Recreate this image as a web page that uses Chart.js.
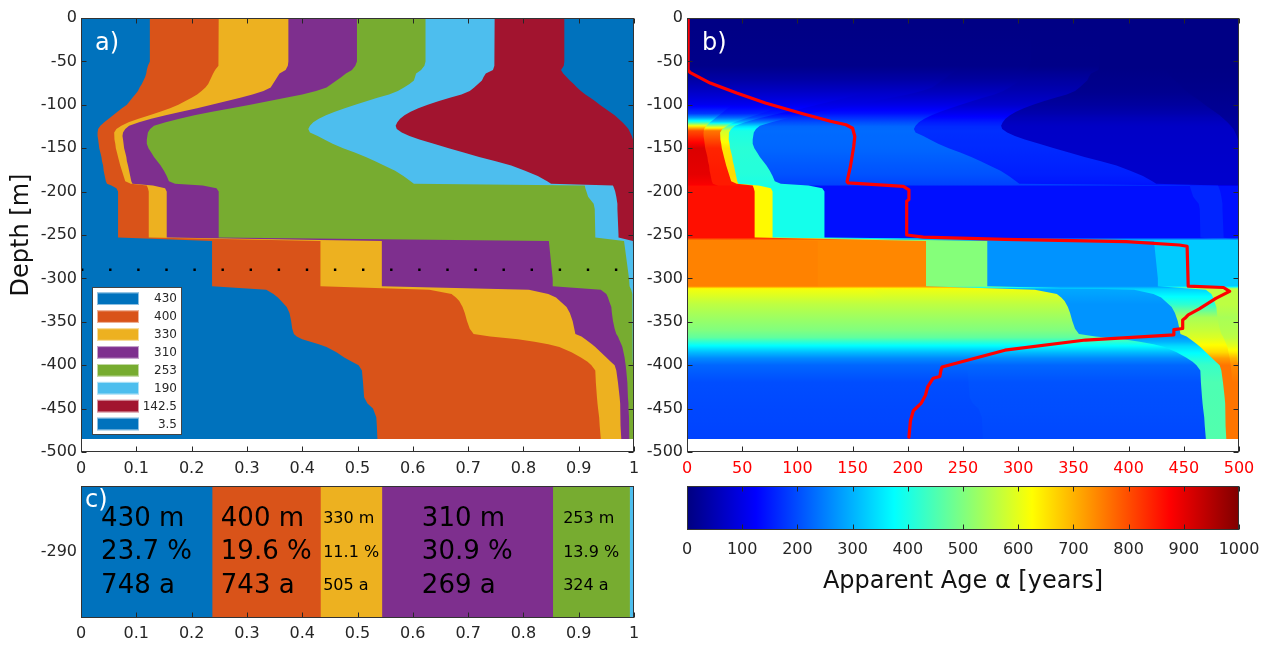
<!DOCTYPE html>
<html><head><meta charset="utf-8">
<script src="https://cdn.jsdelivr.net/npm/chart.js@4.4.0/dist/chart.umd.min.js"></script>
<style>
html,body{margin:0;padding:0;background:#fff;width:1274px;height:649px;overflow:hidden}
canvas{position:absolute;left:0;top:0}
</style></head><body>
<canvas id="ca" width="1274" height="649"></canvas>
<canvas id="cb" width="1274" height="649"></canvas>
<canvas id="cc" width="1274" height="649"></canvas>
<canvas id="cd" width="1274" height="649"></canvas>
<script>
// ---------------- DATA ----------------
const sources = ['430', '400', '330', '310', '253', '190', '142.5', '3.5'];
const sourceColors = ['#0072BD', '#D95319', '#EDB120', '#7E2F8E', '#77AC30', '#4DBEEE', '#A2142F', '#0072BD'];

// depth nodes of the mixing profile (m)
const depthA = [0,-50,-55,-60,-64,-68,-72,-76,-80,-84,-88,-92,-96,-100,-104,-108,-112,-116,-120,-124,
  -128,-132,-136,-140,-145,-150,-155,-160,-165,-170,-176,-182,-188,-191,-193,-196,-200,-206,-214,-220,
  -250,-253,-257,-300,-309,-313,-318,-322,-326,-333,-340,-349,-358,-364,-367,-370,-373,-376,-379,-385,
  -391,-396,-400,-406,-420,-437,-444,-450,-460,-470,-485];

// cumulative fraction up to (and including) each source
const edge430 = [.1245,.1245,.121,.119,.118,.116,.113,.110,.106,.103,
  .098,.093,.088,.083,.074,.066,.058,.050,.042,.035,
  .031,.030,.030,.031,.032,.033,.035,.037,.038,.040,
  .041,.043,.045,.047,.055,.064,.067,.067,.067,.067,
  .067,.067,.237,.237,.237,.335,.348,.356,.362,.372,
  .377,.380,.382,.385,.390,.400,.415,.430,.444,.462,
  .476,.490,.502,.508,.510,.512,.518,.528,.534,.535,.536];
const edge400 = [.249,.249,.248,.2425,.239,.236,.233,.230,.225,.218,
  .210,.200,.188,.176,.161,.143,.124,.104,.086,.073,
  .064,.060,.060,.061,.062,.063,.065,.067,.069,.071,
  .074,.077,.080,.090,.119,.121,.1225,.1225,.1225,.1225,
  .1225,.1225,.433,.433,.433,.630,.670,.678,.684,.690,
  .694,.698,.703,.710,.740,.790,.820,.845,.865,.887,
  .904,.916,.923,.930,.931,.933,.934,.935,.937,.938,.940];
const edge330 = [.375,.375,.374,.370,.359,.355,.351,.347,.343,.330,
  .310,.288,.262,.236,.210,.181,.153,.127,.105,.087,
  .080,.076,.075,.076,.077,.078,.080,.082,.083,.085,
  .087,.089,.091,.093,.130,.152,.155,.155,.155,.155,
  .155,.155,.544,.544,.544,.810,.845,.859,.866,.878,
  .884,.889,.892,.894,.905,.912,.918,.924,.930,.940,
  .950,.958,.965,.968,.971,.974,.975,.975,.976,.976,.977];
const edge310 = [.499,.499,.496,.490,.479,.471,.462,.453,.444,.425,
  .400,.370,.338,.306,.272,.237,.205,.178,.153,.132,
  .125,.121,.120,.119,.119,.122,.127,.132,.138,.144,
  .150,.155,.159,.170,.220,.245,.249,.249,.249,.249,
  .249,.249,.846,.853,.853,.940,.950,.953,.955,.959,
  .960,.962,.965,.968,.971,.973,.975,.977,.979,.981,
  .983,.984,.985,.986,.988,.989,.990,.990,.991,.991,.992];
const edge253 = [.623,.623,.621,.615,.606,.604,.602,.594,.584,.573,
  .557,.536,.516,.496,.477,.459,.443,.430,.420,.414,
  .411,.414,.428,.440,.455,.474,.495,.515,.532,.548,
  .568,.583,.596,.602,.911,.912,.914,.917,.927,.929,
  .930,.930,.982,.991,.992,.995,.997,.997,.997,.997,
  .997,.997,.998,.998,.998,.998,.998,.998,.998,.998,
  .998,.998,.999,.999,.999,.999,.999,.999,.999,.999,.999];
const edge190 = [.748,.748,.747,.745,.732,.728,.725,.718,.711,.703,
  .688,.667,.646,.627,.610,.596,.585,.577,.572,.569,
  .571,.580,.594,.612,.638,.665,.692,.720,.750,.778,
  .803,.826,.843,.850,.962,.964,.966,.968,.970,.970,
  .972,.972,.998,.999,.999,1,1,1,1,1,
  1,1,1,1,1,1,1,1,1,1,
  1,1,1,1,1,1,1,1,1,1,1];
const edge142 = [.874,.874,.873,.868,.872,.878,.884,.891,.897,.904,
  .912,.921,.930,.938,.947,.956,.965,.972,.979,.985,
  .990,.993,.996,.998,1,1,1,1,1,1,
  1,1,1,1,1,1,1,1,1,1,
  1,1,1,1,1,1,1,1,1,1,
  1,1,1,1,1,1,1,1,1,1,
  1,1,1,1,1,1,1,1,1,1,1];
const edge3_5 = depthA.map(() => 1); // total fraction = 1
const edges = [edge430, edge400, edge330, edge310, edge253, edge190, edge142, edge3_5];

// apparent age of each source component vs depth (years)
const ageDepth = [0,-55,-70,-85,-100,-110,-115,-120,-125,-130,-150,-180,-192,-194,-253,-256,-309,-312,-330,-345,-360,-368,-373,-378,-385,-392,-400,-420,-485];
const age430 = [5,10,35,70,110,180,280,420,650,800,910,900,880,860,860,748,748,615,560,530,500,470,420,370,310,260,225,200,190];
const age400 = [5,10,35,70,110,160,230,330,560,760,840,850,850,860,860,743,743,610,560,530,500,470,420,370,310,260,225,205,195];
const age330 = [5,10,35,70,110,150,200,300,450,580,650,660,650,630,630,505,505,290,270,270,270,275,300,340,370,400,430,450,455];
const age310 = [5,10,35,70,100,130,170,250,350,400,415,410,400,395,395,269,269,330,420,540,570,590,610,630,660,720,760,760,760];
const age253 = [5,10,30,60,100,140,170,200,225,230,225,205,190,140,140,324,324,560,560,540,550,560,580,600,640,700,740,760,760];
const age190 = [5,8,30,50,75,110,130,150,165,170,165,155,145,160,160,324,324,560,560,560,560,560,560,560,560,560,560,560,560];
const age142 = [5,5,10,15,30,45,55,62,68,70,72,75,75,140,140,324,324,560,560,560,560,560,560,560,560,560,560,560,560];
const age3_5 = [5,5,8,12,18,22,25,28,30,30,30,30,30,30,30,30,30,30,30,30,30,30,30,30,30,30,30,30,30];
const ages = [age430, age400, age330, age310, age253, age190, age142, age3_5];

// mean apparent age profile (red line)
const meanDepth = [0,-60,-63,-75,-86.5,-98,-110,-119,-123,-127,-136.5,-148,-171,-188.5,-190,-194,-198,-209,-211,-217,
  -250,-252.5,-255,-257.7,-261.5,-263,-309,-310.5,-315,-323,-335,-342,-346,-348,-357.7,-359,-365,-371,-382.7,-402,
  -406,-413,-415,-425,-434.6,-444,-452.5,-464,-483];
const meanAge = [1,1,3,21,45,71,104,130,144,150,152,151,148,145,146,196,201,201,199,199,
  199,214,288,398,446,453,454,486,491.5,479,464,454,451,449,449,441,441,361,288,231,
  230,229,223,218,216,212,205,202.4,201];

// composition at -290 m
const cDepth = '-290';
const cSources = ['430', '400', '330', '310', '253', '190'];
const cPercent = [23.7, 19.6, 11.1, 30.9, 13.9, 0.8];
const cAge = [748, 743, 505, 269, 324, null];
const markerDepth = -290;

// ---------------- HELPERS ----------------
const AX = '#262626';
const FONT = '"DejaVu Sans", "Liberation Sans", sans-serif';
Chart.defaults.font.family = FONT;
Chart.defaults.color = AX;
Chart.defaults.plugins.legend.display = false;
Chart.defaults.plugins.tooltip.enabled = false;

const fixW = w => s => { s.width = w; };
const fixH = h => s => { s.height = h; };
const fmt1 = v => String(Math.round(v * 10) / 10);
const fmtInt = v => String(Math.round(v));

function jet(v) {
  v = Math.max(0, Math.min(1, v));
  const c = x => Math.round(255 * Math.max(0, Math.min(1, x)));
  return `rgb(${c(1.5 - Math.abs(4 * v - 3))},${c(1.5 - Math.abs(4 * v - 2))},${c(1.5 - Math.abs(4 * v - 1))})`;
}

function bandGradient(chart, a) {
  const ys = chart.scales.y;
  if (!ys || !chart.chartArea) return 'rgba(0,0,0,0)';
  const y0 = ys.getPixelForValue(0), y1 = ys.getPixelForValue(-500);
  if (!isFinite(y0) || !isFinite(y1) || y0 === y1) return 'rgba(0,0,0,0)';
  const g = chart.ctx.createLinearGradient(0, y0, 0, y1);
  const n = 6;
  for (let i = 0; i < ageDepth.length; i++) {
    if (i > 0) {
      for (let s = 1; s < n; s++) {
        const t = s / n;
        const d = ageDepth[i - 1] + (ageDepth[i] - ageDepth[i - 1]) * t;
        const v = a[i - 1] + (a[i] - a[i - 1]) * t;
        g.addColorStop(-d / 500, jet(v / 1000));
      }
    }
    g.addColorStop(-ageDepth[i] / 500, jet(a[i] / 1000));
  }
  return g;
}

function frameTicks(chart, o) {
  const {ctx, chartArea: a} = chart;
  const L = Math.round(a.left) + 0.5, R = Math.round(a.right) - 0.5;
  const T = Math.round(a.top) + 0.5, B = Math.round(a.bottom) - 0.5;
  const len = 5;
  ctx.save();
  ctx.strokeStyle = AX; ctx.lineWidth = 1;
  ctx.beginPath();
  if (o.x) {
    const s = chart.scales[o.x];
    s.ticks.forEach(t => {
      const p = Math.round(s.getPixelForValue(t.value)) + 0.5;
      if (o.sides.includes('b')) { ctx.moveTo(p, B); ctx.lineTo(p, B - len); }
      if (o.sides.includes('t')) { ctx.moveTo(p, T); ctx.lineTo(p, T + len); }
    });
  }
  if (o.y) {
    const s = chart.scales[o.y];
    s.ticks.forEach(t => {
      const p = Math.round(s.getPixelForValue(t.value)) + 0.5;
      if (o.sides.includes('l')) { ctx.moveTo(L, p); ctx.lineTo(L + len, p); }
      if (o.sides.includes('r')) { ctx.moveTo(R, p); ctx.lineTo(R - len, p); }
    });
  }
  ctx.stroke();
  ctx.strokeStyle = '#333';
  ctx.strokeRect(L, T, R - L, B - T);
  ctx.restore();
}

function panelLabel(chart, txt, x, y) {
  const ctx = chart.ctx;
  ctx.save();
  ctx.fillStyle = '#fff';
  ctx.font = '24px ' + FONT;
  ctx.textAlign = 'left'; ctx.textBaseline = 'middle';
  ctx.fillText(txt, x, y);
  ctx.restore();
}

const axisCommon = {
  grid: {display: false, drawTicks: false},
  border: {display: false}
};

function yDepthAxis(width, titleOn) {
  return Object.assign({}, axisCommon, {
    type: 'linear', min: -500, max: 0,
    ticks: {stepSize: 50, font: {size: 16}, padding: 4, color: AX, callback: fmtInt},
    title: titleOn ? {display: true, text: 'Depth [m]', font: {size: 24}, color: '#111', padding: {top: 7, bottom: 0}} : {display: false},
    afterFit: fixW(width)
  });
}

// ---------------- PANEL A ----------------
const dsA = edges.map((e, k) => ({
  label: sources[k],
  data: depthA.map((d, i) => ({x: e[i], y: d})),
  fill: 'origin',
  backgroundColor: sourceColors[k],
  borderWidth: 0, pointRadius: 0, tension: 0, order: k
}));
dsA.push({
  label: 'marker',
  data: [{x: 0, y: markerDepth}, {x: 1, y: markerDepth}],
  borderColor: '#000', borderWidth: 2.4, borderDash: [2.4, 25.7], borderDashOffset: 0,
  pointRadius: 0, fill: false, order: -1
});

new Chart(document.getElementById('ca'), {
  type: 'line',
  data: {datasets: dsA},
  options: {
    responsive: false, animation: false, devicePixelRatio: 1,
    indexAxis: 'y',
    layout: {padding: {left: 0, top: 18, right: 640, bottom: 169}},
    scales: {
      x: Object.assign({}, axisCommon, {
        type: 'linear', min: 0, max: 1, position: 'bottom',
        ticks: {stepSize: 0.1, callback: fmt1, font: {size: 16}, padding: 7, color: AX},
        afterFit: fixH(28)
      }),
      y: yDepthAxis(81, true)
    }
  },
  plugins: [{
    id: 'decoA',
    afterDraw(chart) {
      frameTicks(chart, {x: 'x', y: 'y', sides: 'btlr'});
      panelLabel(chart, 'a)', 95, 44);
      const ctx = chart.ctx;
      const bx = 92.5, by = 287.5, bw = 89, bh = 147;
      ctx.save();
      ctx.fillStyle = '#fff'; ctx.fillRect(bx, by, bw, bh);
      ctx.strokeStyle = '#444'; ctx.lineWidth = 1; ctx.strokeRect(bx, by, bw, bh);
      ctx.font = '12px ' + FONT; ctx.textAlign = 'right'; ctx.textBaseline = 'middle';
      sources.forEach((s, i) => {
        const cy = 298.7 + i * 17.9;
        ctx.fillStyle = sourceColors[i]; ctx.fillRect(97, cy - 6.3, 42, 12.6);
        ctx.strokeStyle = 'rgba(255,255,255,0.55)'; ctx.strokeRect(97.5, cy - 5.8, 41, 11.6);
        ctx.fillStyle = AX; ctx.fillText(s, 177, cy + 0.5);
      });
      ctx.restore();
    }
  }]
});

// ---------------- PANEL B ----------------
const dsB = edges.map((e, k) => ({
  label: sources[k],
  data: depthA.map((d, i) => ({x: e[i], y: d})),
  xAxisID: 'xf', yAxisID: 'y',
  fill: 'origin',
  backgroundColor: (c) => bandGradient(c.chart, ages[k]),
  borderWidth: 0, pointRadius: 0, tension: 0, order: k
}));
dsB.push({
  label: 'mean apparent age',
  data: meanDepth.map((d, i) => ({x: meanAge[i], y: d})),
  xAxisID: 'x', yAxisID: 'y',
  borderColor: '#ff0000', borderWidth: 3.2, borderJoinStyle: 'round', borderCapStyle: 'round',
  pointRadius: 0, fill: false, tension: 0, order: -1
});

new Chart(document.getElementById('cb'), {
  type: 'line',
  data: {datasets: dsB},
  options: {
    responsive: false, animation: false, devicePixelRatio: 1,
    indexAxis: 'y',
    layout: {padding: {left: 642, top: 18, right: 35, bottom: 169}},
    scales: {
      x: Object.assign({}, axisCommon, {
        type: 'linear', min: 0, max: 500, position: 'bottom',
        ticks: {stepSize: 50, font: {size: 16}, padding: 7, color: '#ff0000', callback: fmtInt},
        afterFit: fixH(28)
      }),
      xf: {type: 'linear', min: 0, max: 1, display: false},
      y: yDepthAxis(45, false)
    }
  },
  plugins: [{
    id: 'decoB',
    afterDraw(chart) {
      frameTicks(chart, {x: 'x', y: 'y', sides: 'btlr'});
      panelLabel(chart, 'b)', 702, 44);
    }
  }]
});

// ---------------- PANEL C ----------------
const dsC = cSources.map((s, i) => ({
  label: s,
  data: [cPercent[i] / 100],
  backgroundColor: sourceColors[i],
  borderWidth: 0, barPercentage: 1, categoryPercentage: 1
}));

new Chart(document.getElementById('cc'), {
  type: 'bar',
  data: {labels: [cDepth], datasets: dsC},
  options: {
    responsive: false, animation: false, devicePixelRatio: 1,
    indexAxis: 'y',
    layout: {padding: {left: 0, top: 486, right: 640, bottom: 0}},
    scales: {
      x: Object.assign({}, axisCommon, {
        type: 'linear', stacked: true, min: 0, max: 1,
        ticks: {stepSize: 0.1, callback: fmt1, font: {size: 16}, padding: 6, color: AX},
        afterFit: fixH(31)
      }),
      y: Object.assign({}, axisCommon, {
        type: 'category', stacked: true,
        ticks: {font: {size: 16}, padding: 4, color: AX},
        afterFit: fixW(81)
      })
    }
  },
  plugins: [{
    id: 'decoC',
    afterDatasetsDraw(chart) {
      const ctx = chart.ctx;
      ctx.save();
      ctx.fillStyle = '#000'; ctx.textAlign = 'left'; ctx.textBaseline = 'middle';
      chart.data.datasets.forEach((ds, i) => {
        const pct = cPercent[i];
        if (pct < 5 || cAge[i] == null) return;
        const size = pct >= 15 ? 26 : 16;
        const el = chart.getDatasetMeta(i).data[0];
        const cx = (el.x + el.base) / 2;
        const lines = [cSources[i] + ' m', pct.toFixed(1) + ' %', cAge[i] + ' a'];
        ctx.font = size + 'px ' + FONT;
        const w = Math.max(...lines.map(l => ctx.measureText(l).width));
        const left = cx - w / 2;
        lines.forEach((l, j) => ctx.fillText(l, left, el.y - 33 + j * 33.5));
      });
      ctx.restore();
    },
    afterDraw(chart) {
      frameTicks(chart, {x: 'x', sides: 'b'});
      panelLabel(chart, 'c)', 85, 501);
    }
  }]
});

// ---------------- COLORBAR ----------------
new Chart(document.getElementById('cd'), {
  type: 'bar',
  data: {labels: [''], datasets: [{
    label: 'Apparent Age',
    data: [[0, 1000]],
    backgroundColor: (c) => {
      const ch = c.chart, xs = ch.scales.x;
      if (!xs || !ch.chartArea) return 'rgba(0,0,0,0)';
      const x0 = xs.getPixelForValue(0), x1 = xs.getPixelForValue(1000);
      if (!isFinite(x0) || !isFinite(x1) || x0 === x1) return 'rgba(0,0,0,0)';
      const g = ch.ctx.createLinearGradient(x0, 0, x1, 0);
      [0, 0.125, 0.375, 0.625, 0.875, 1].forEach(v => g.addColorStop(v, jet(v)));
      return g;
    },
    borderWidth: 0, barPercentage: 1, categoryPercentage: 1
  }]},
  options: {
    responsive: false, animation: false, devicePixelRatio: 1,
    indexAxis: 'y',
    layout: {padding: {left: 687, top: 486, right: 35, bottom: 0}},
    scales: {
      x: Object.assign({}, axisCommon, {
        type: 'linear', min: 0, max: 1000,
        ticks: {stepSize: 100, font: {size: 16}, padding: 10, color: AX, callback: fmtInt},
        title: {display: true, text: 'Apparent Age α [years]', font: {size: 24}, color: '#111', padding: {top: 0, bottom: 53}},
        afterFit: fixH(119)
      }),
      y: {type: 'category', display: false}
    }
  },
  plugins: [{
    id: 'decoD',
    afterDraw(chart) { frameTicks(chart, {x: 'x', sides: 'bt'}); }
  }]
});
</script>
</body></html>
